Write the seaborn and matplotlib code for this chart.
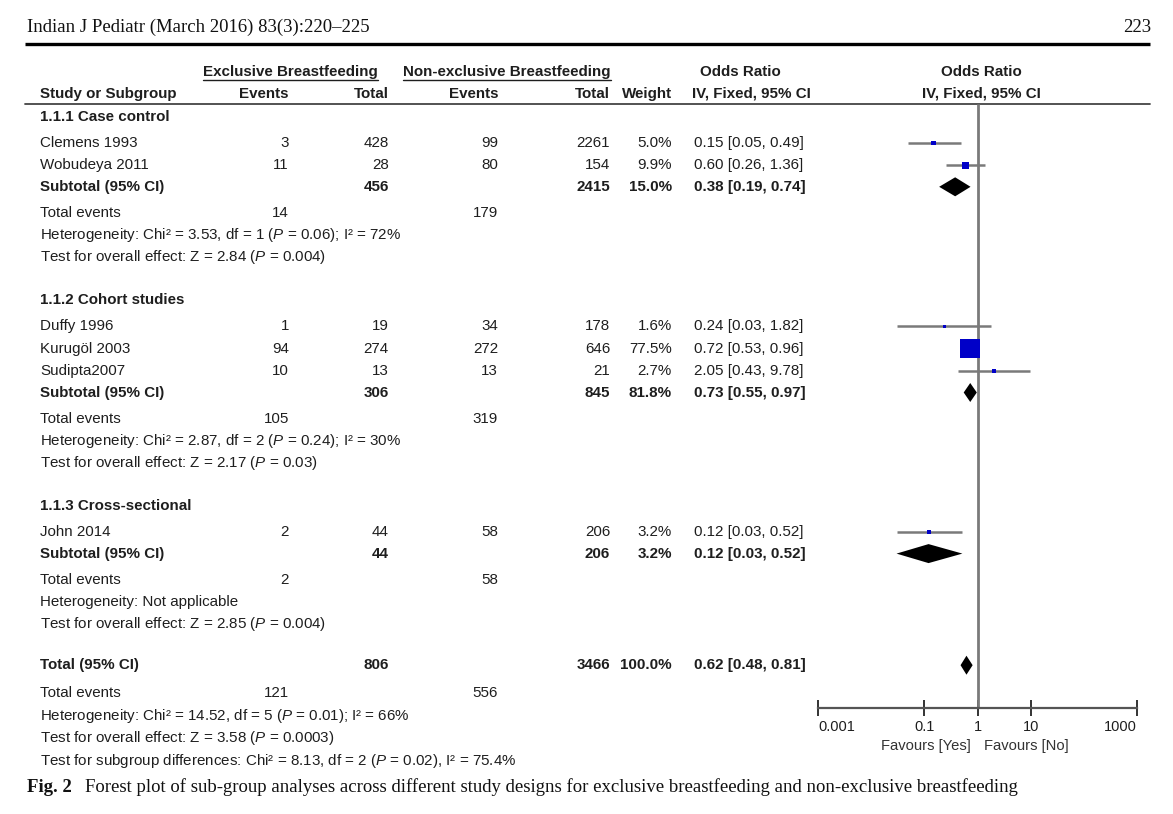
import numpy as np
import pandas as pd
import matplotlib
matplotlib.use("Agg")
import matplotlib.pyplot as plt
from matplotlib.ticker import NullLocator
import seaborn as sns

# ---------------- data ----------------
studies = ["Clemens 1993", "Wobudeya 2011", "Duffy 1996", "Kurugöl 2003", "Sudipta2007", "John 2014"]
study_group = [0, 0, 1, 1, 1, 2]
exp_events = [3, 11, 1, 94, 10, 2]
exp_total = [428, 28, 19, 274, 13, 44]
ctl_events = [99, 80, 34, 272, 13, 58]
ctl_total = [2261, 154, 178, 646, 21, 206]
weights = [5.0, 9.9, 1.6, 77.5, 2.7, 3.2]
odds = [0.15, 0.60, 0.24, 0.72, 2.05, 0.12]
ci_low = [0.05, 0.26, 0.03, 0.53, 0.43, 0.03]
ci_high = [0.49, 1.36, 1.82, 0.96, 9.78, 0.52]

subgroups = ["1.1.1 Case control", "1.1.2 Cohort studies", "1.1.3 Cross-sectional"]
sub_exp_total = [456, 306, 44]
sub_ctl_total = [2415, 845, 206]
sub_weight = [15.0, 81.8, 3.2]
sub_or = [0.38, 0.73, 0.12]
sub_low = [0.19, 0.55, 0.03]
sub_high = [0.74, 0.97, 0.52]
sub_exp_events = [14, 105, 2]
sub_ctl_events = [179, 319, 58]
sub_het = ["Heterogeneity: Chi² = 3.53, df = 1 ($\\mathit{P}$ = 0.06); I² = 72%",
           "Heterogeneity: Chi² = 2.87, df = 2 ($\\mathit{P}$ = 0.24); I² = 30%",
           "Heterogeneity: Not applicable"]
sub_test = ["Test for overall effect: Z = 2.84 ($\\mathit{P}$ = 0.004)",
            "Test for overall effect: Z = 2.17 ($\\mathit{P}$ = 0.03)",
            "Test for overall effect: Z = 2.85 ($\\mathit{P}$ = 0.004)"]

total_exp_total = 806
total_ctl_total = 3466
total_weight = 100.0
total_or, total_low, total_high = 0.62, 0.48, 0.81
total_exp_events = 121
total_ctl_events = 556
total_lines = ["Heterogeneity: Chi² = 14.52, df = 5 ($\\mathit{P}$ = 0.01); I² = 66%",
               "Test for overall effect: Z = 3.58 ($\\mathit{P}$ = 0.0003)",
               "Test for subgroup differences: Chi² = 8.13, df = 2 ($\\mathit{P}$ = 0.02), I² = 75.4%"]

axis_ticks = [0.001, 0.1, 1, 10, 1000]
axis_tick_labels = ["0.001", "0.1", "1", "10", "1000"]

journal_header = "Indian J Pediatr (March 2016) 83(3):220–225"
page_number = "223"
caption_bold = "Fig. 2"
caption_text = "Forest plot of sub-group analyses across different study designs for exclusive breastfeeding and non-exclusive breastfeeding"

# ---------------- style ----------------
sns.set_theme(style="white")
plt.rcParams["font.family"] = ["Liberation Sans", "DejaVu Sans"]
plt.rcParams["mathtext.fontset"] = "custom"
plt.rcParams["mathtext.rm"] = "Liberation Sans"
plt.rcParams["mathtext.it"] = "Liberation Sans:italic"
plt.rcParams["mathtext.bf"] = "Liberation Sans:bold"

W, H = 1173, 814
fig = plt.figure(figsize=(W / 100, H / 100), dpi=100)
fig.patch.set_facecolor("white")

ax = fig.add_axes([0, 0, 1, 1], zorder=0)
ax.set_xlim(0, W)
ax.set_ylim(H, 0)
ax.axis("off")

TXT = "#1e1e1e"
FS = 10.9
GREY = "#7a7a7a"

# column anchors (pixels)
X_STUDY = 40
X_EXP_EV = 289
X_EXP_TOT = 389
X_CTL_EV = 498
X_CTL_TOT = 610
X_WEIGHT = 672
X_OR = 694


def t(x, y, s, ha="left", bold=False, size=FS, **kw):
    ax.text(x, y, s, ha=ha, va="center", fontsize=size, color=TXT,
            fontweight="bold" if bold else "normal", **kw)


# journal header
ax.text(27, 27, journal_header, fontsize=13.5, family="Liberation Serif", color="#111", va="center")
ax.text(1151, 27, page_number, fontsize=13.5, family="Liberation Serif", color="#111", va="center", ha="right")
ax.plot([25, 1150], [44, 44], color="black", lw=2.4, solid_capstyle="butt")

# column headers
t(290, 72, "Exclusive Breastfeeding", ha="center", bold=True)
t(507, 72, "Non-exclusive Breastfeeding", ha="center", bold=True)
ax.plot([203, 378], [80, 80], color=TXT, lw=1)
ax.plot([403, 611], [80, 80], color=TXT, lw=1)
t(740, 72, "Odds Ratio", ha="center", bold=True)
t(981, 72, "Odds Ratio", ha="center", bold=True)
t(X_STUDY, 94, "Study or Subgroup", bold=True)
t(X_EXP_EV, 94, "Events", ha="right", bold=True)
t(X_EXP_TOT, 94, "Total", ha="right", bold=True)
t(X_CTL_EV, 94, "Events", ha="right", bold=True)
t(X_CTL_TOT, 94, "Total", ha="right", bold=True)
t(X_WEIGHT, 94, "Weight", ha="right", bold=True)
t(751, 94, "IV, Fixed, 95% CI", ha="center", bold=True)
t(981, 94, "IV, Fixed, 95% CI", ha="center", bold=True)
ax.plot([25, 1150], [104, 104], color="#444", lw=1.3)

# ---------------- rows ----------------
study_y = []
sub_y = []
y = 117
for g, name in enumerate(subgroups):
    t(X_STUDY, y, name, bold=True)
    y += 26
    idx = [i for i, gg in enumerate(study_group) if gg == g]
    for k, i in enumerate(idx):
        if k > 0:
            y += 22.3
        study_y.append(y)
        t(X_STUDY, y, studies[i])
        t(X_EXP_EV, y, str(exp_events[i]), ha="right")
        t(X_EXP_TOT, y, str(exp_total[i]), ha="right")
        t(X_CTL_EV, y, str(ctl_events[i]), ha="right")
        t(X_CTL_TOT, y, str(ctl_total[i]), ha="right")
        t(X_WEIGHT, y, f"{weights[i]:.1f}%", ha="right")
        t(X_OR, y, f"{odds[i]:.2f} [{ci_low[i]:.2f}, {ci_high[i]:.2f}]")
    y += 21.5
    sub_y.append(y)
    t(X_STUDY, y, "Subtotal (95% CI)", bold=True)
    t(X_EXP_TOT, y, str(sub_exp_total[g]), ha="right", bold=True)
    t(X_CTL_TOT, y, str(sub_ctl_total[g]), ha="right", bold=True)
    t(X_WEIGHT, y, f"{sub_weight[g]:.1f}%", ha="right", bold=True)
    t(X_OR, y, f"{sub_or[g]:.2f} [{sub_low[g]:.2f}, {sub_high[g]:.2f}]", bold=True)
    y += 26
    t(X_STUDY, y, "Total events")
    t(X_EXP_EV, y, str(sub_exp_events[g]), ha="right")
    t(X_CTL_EV, y, str(sub_ctl_events[g]), ha="right")
    y += 22.3
    t(X_STUDY, y, sub_het[g])
    y += 22.3
    t(X_STUDY, y, sub_test[g])
    y += 43 if g < len(subgroups) - 1 else 41

total_y = y
t(X_STUDY, y, "Total (95% CI)", bold=True)
t(X_EXP_TOT, y, str(total_exp_total), ha="right", bold=True)
t(X_CTL_TOT, y, str(total_ctl_total), ha="right", bold=True)
t(X_WEIGHT, y, f"{total_weight:.1f}%", ha="right", bold=True)
t(X_OR, y, f"{total_or:.2f} [{total_low:.2f}, {total_high:.2f}]", bold=True)
y += 28
t(X_STUDY, y, "Total events")
t(X_EXP_EV, y, str(total_exp_events), ha="right")
t(X_CTL_EV, y, str(total_ctl_events), ha="right")
for line in total_lines:
    y += 22.6
    t(X_STUDY, y, line)

# caption
ax.text(27, 787, caption_bold, fontsize=13.5, family="Liberation Serif", fontweight="bold", color="#111", va="center")
ax.text(85, 787, caption_text, fontsize=13.5, family="Liberation Serif", color="#111", va="center")

# ---------------- forest axes ----------------
AX_L, AX_R = 818, 1137
AXIS_Y = 708
axf = fig.add_axes([AX_L / W, 0, (AX_R - AX_L) / W, 1], zorder=1)
axf.patch.set_alpha(0)

# CI lines
axf.hlines(study_y, ci_low, ci_high, color=GREY, lw=1.8, zorder=2)

# squares sized by weight (area proportional)
df = pd.DataFrame({"or": odds, "y": study_y, "w": weights})
sns.scatterplot(data=df, x="or", y="y", size="w", sizes=(0, 195), size_norm=(0, max(weights)),
                marker="s", color="#0000c8", linewidth=0, legend=False, ax=axf, zorder=3)

# diamonds
HH = 9.5
for yy, o, lo, hi in zip(sub_y + [total_y], sub_or + [total_or], sub_low + [total_low], sub_high + [total_high]):
    axf.fill([lo, o, hi, o], [yy, yy - HH, yy, yy + HH], color="black", lw=0, zorder=3)

# line of no effect
axf.vlines(1, 104, AXIS_Y, color=GREY, lw=2, zorder=1)

axf.set_xscale("log")
axf.set_xlim(0.001, 1000)
axf.set_ylim(H, 0)
axf.set_xlabel("")
axf.set_ylabel("")
axf.set_yticks([])
axf.set_xticks(axis_ticks)
axf.set_xticklabels(axis_tick_labels)
axf.xaxis.set_minor_locator(NullLocator())
for s in ["top", "left", "right"]:
    axf.spines[s].set_visible(False)
axf.spines["bottom"].set_position(("data", AXIS_Y))
axf.spines["bottom"].set_color("#555555")
axf.spines["bottom"].set_linewidth(1.6)
axf.tick_params(axis="x", direction="inout", length=11, width=1.4, color="#333333",
                pad=3, labelsize=10.5, labelcolor=TXT, bottom=True)
labels = axf.get_xticklabels()
labels[0].set_horizontalalignment("left")
labels[-1].set_horizontalalignment("right")

ax.text(971, 746, "Favours [Yes]", ha="right", va="center", fontsize=10.6, color="#333")
ax.text(984, 746, "Favours [No]", ha="left", va="center", fontsize=10.6, color="#333")

fig.savefig("out.png", dpi=100, facecolor="white")
